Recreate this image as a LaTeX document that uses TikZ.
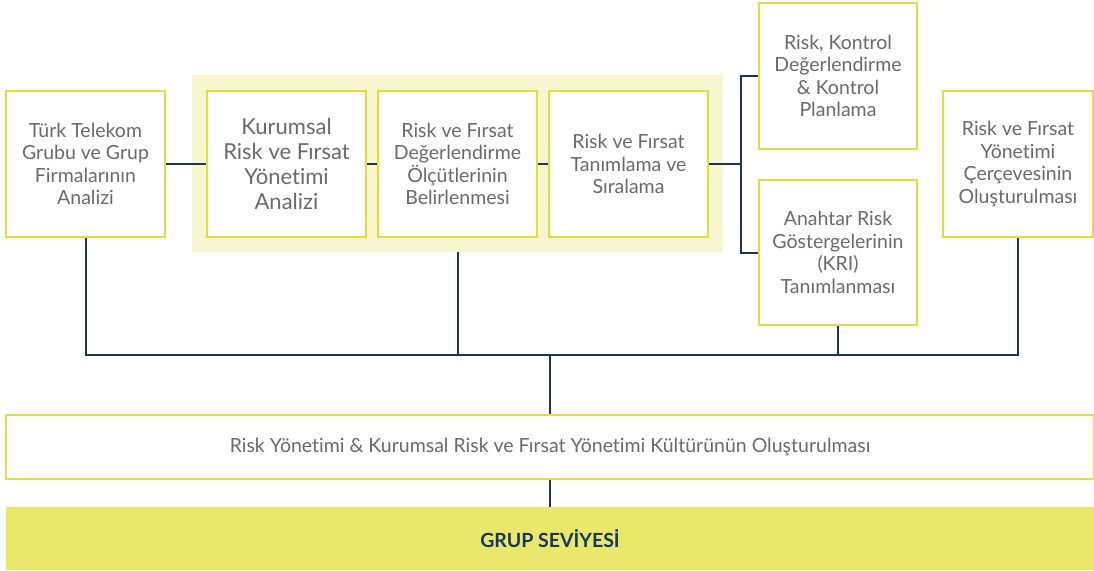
\documentclass[tikz,border=0pt]{standalone}
\usepackage{fontspec}
\setmainfont{Lato}[Ligatures=NoCommon]
\definecolor{boxline}{HTML}{E2DF3C}
\definecolor{paleyellow}{HTML}{F8F6CE}
\definecolor{barfill}{HTML}{E9E86A}
\definecolor{navy}{HTML}{1B365D}
\definecolor{txtgrey}{HTML}{6A6A6A}
\tikzset{
  stepbox/.style={draw=boxline, line width=1.2pt, fill=white, text=txtgrey,
    align=center, inner sep=0pt, minimum width=159pt, minimum height=146pt,
    font=\fontsize{19.5}{22.5}\selectfont},
  link/.style={draw=navy, line width=2pt},
}

\begin{document}
\begin{tikzpicture}[x=1pt, y=-1pt]
  \useasboundingbox[fill=white] (0,0) rectangle (1094,570);

  % highlighted group
  \node[fill=paleyellow, minimum width=531pt, minimum height=177pt, inner sep=0pt] (grp) at (457.5,163.5) {};

  \node[stepbox] (b1) at (85.5,164) {Türk Telekom\\Grubu ve Grup\\Firmalarının\\Analizi};
  \node[stepbox, font=\fontsize{22}{25}\selectfont] (b2) at (286.5,164) {Kurumsal\\Risk ve Fırsat\\Yönetimi\\Analizi};
  \node[stepbox] (b3) at (457.5,164) {Risk ve Fırsat\\Değerlendirme\\Ölçütlerinin\\Belirlenmesi};
  \node[stepbox] (b4) at (628.5,164) {Risk ve Fırsat\\Tanımlama ve\\Sıralama};
  \node[stepbox, minimum width=158pt] (b5) at (838,76) {Risk, Kontrol\\Değerlendirme\\\& Kontrol\\Planlama};
  \node[stepbox, minimum width=158pt, minimum height=145pt] (b6) at (838,252.5) {Anahtar Risk\\Göstergelerinin\\(KRI)\\Tanımlanması};
  \node[stepbox, minimum width=150pt] (b7) at (1018,164) {Risk ve Fırsat\\Yönetimi\\Çerçevesinin\\Oluşturulması};

  \node[stepbox, minimum width=1088pt, minimum height=64pt] (b8) at (550,447) {Risk Yönetimi \& Kurumsal Risk ve Fırsat Yönetimi Kültürünün Oluşturulması};
  \node[fill=barfill, minimum width=1088pt, minimum height=63pt, inner sep=0pt, text=navy,
    font=\fontsize{19.5}{22}\selectfont\bfseries] (bar) at (550,538.5) {GRUP SEVİYESİ};

  % connectors
  \coordinate (fork) at (741,164);
  \coordinate (bus) at (550,355);
  \draw[link] (b1.east) -- (b2.west);
  \draw[link] (b2.east) -- (b3.west);
  \draw[link] (b3.east) -- (b4.west);
  \draw[link] (b4.east) -- (fork);
  \draw[link] (b5.west) -| (fork) |- (b6.west);
  \draw[link] (b1.south) |- (bus);
  \draw[link] (b7.south) |- (bus);
  \draw[link] (grp.south) -- (grp.south |- bus);
  \draw[link] (b6.south) -- (b6.south |- bus);
  \draw[link] (bus) -- (b8.north);
  \draw[link] (b8.south) -- (bar.north);
\end{tikzpicture}
\end{document}
